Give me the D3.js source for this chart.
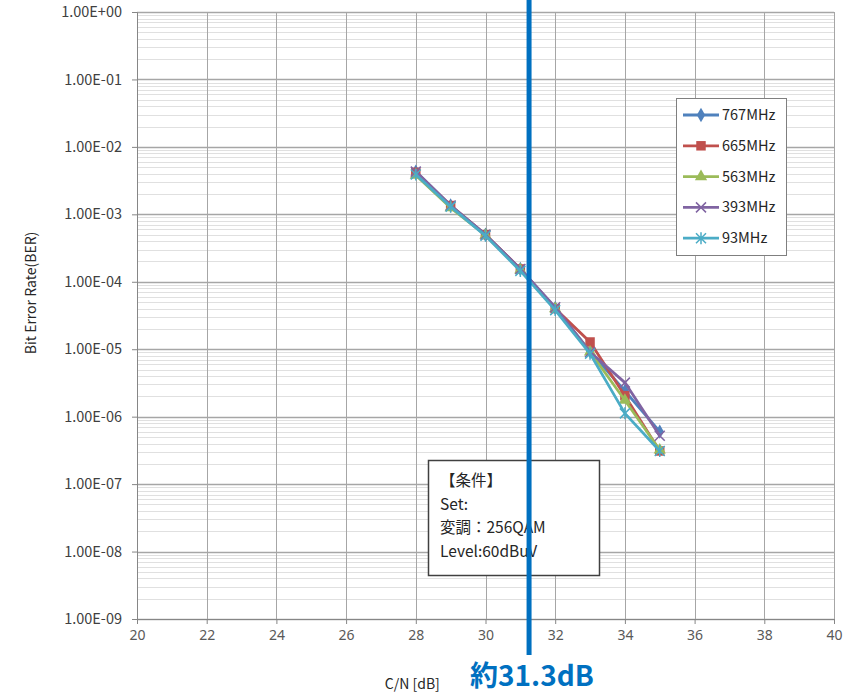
<!DOCTYPE html>
<html>
<head>
<meta charset="utf-8">
<script src="https://cdn.jsdelivr.net/npm/d3@7"></script>
<style>
  body { margin: 0; background: #fff; }
  svg { display: block; }
  text { font-family: "Noto Sans CJK JP", "Noto Sans", sans-serif; }
</style>
</head>
<body>
<div id="chart-area"></div>
<script>
// C/N values (dB)
var cn = [28, 29, 30, 31, 32, 33, 34, 35];

// BER per frequency
var ber767 = [4.3e-3, 1.35e-3, 5.0e-4, 1.55e-4, 4.1e-5, 9.3e-6, 2.4e-6, 6.0e-7];
var ber665 = [4.2e-3, 1.35e-3, 5.0e-4, 1.55e-4, 4.0e-5, 1.28e-5, 2.05e-6, 3.1e-7];
var ber563 = [3.8e-3, 1.25e-3, 4.9e-4, 1.5e-4, 4.0e-5, 9.1e-6, 1.75e-6, 3.2e-7];
var ber393 = [4.3e-3, 1.35e-3, 5.0e-4, 1.55e-4, 4.2e-5, 9.1e-6, 3.2e-6, 5.2e-7];
var ber93  = [3.9e-3, 1.3e-3, 4.8e-4, 1.45e-4, 3.8e-5, 8.6e-6, 1.12e-6, 3.1e-7];

var seriesNames = ["767MHz", "665MHz", "563MHz", "393MHz", "93MHz"];
var seriesColors = ["#4F81BD", "#C0504D", "#9BBB59", "#8064A2", "#4BACC6"];
var seriesMarkers = ["diamond", "square", "triangle", "x", "star"];
var seriesValues = [ber767, ber665, ber563, ber393, ber93];

var xTicks = [20, 22, 24, 26, 28, 30, 32, 34, 36, 38, 40];
var yTicks = [1, 1e-1, 1e-2, 1e-3, 1e-4, 1e-5, 1e-6, 1e-7, 1e-8, 1e-9];
var yTickLabels = ["1.00E+00", "1.00E-01", "1.00E-02", "1.00E-03", "1.00E-04",
                   "1.00E-05", "1.00E-06", "1.00E-07", "1.00E-08", "1.00E-09"];

var markLine = 31.25;
var markLabel = "約31.3dB";
var noteLines = ["【条件】", "Set:", "変調：256QAM", "Level:60dBuV"];

var margin = { left: 137, right: 18, top: 12, bottom: 74 };
var width = 852 - margin.left - margin.right,
    height = 693 - margin.top - margin.bottom;

var svg = d3.select("#chart-area")
  .append("svg")
    .attr("width", 852)
    .attr("height", 693);

var g = svg.append("g")
  .attr("transform", "translate(" + margin.left + "," + margin.top + ")");

var x = d3.scaleLinear().domain([20, 40]).range([0, width]);
var y = d3.scaleLog().domain([1e-9, 1]).range([height, 0]);

// minor horizontal grid
var minor = [];
for (var e = -9; e < 0; e++) {
  for (var m = 2; m <= 9; m++) minor.push(m * Math.pow(10, e));
}
g.append("g").selectAll("line.minor")
  .data(minor)
  .enter().append("line")
    .attr("x1", 0).attr("x2", width)
    .attr("y1", function(d) { return Math.round(y(d)) + 0.5; })
    .attr("y2", function(d) { return Math.round(y(d)) + 0.5; })
    .attr("stroke", "#e0e0e0")
    .attr("stroke-width", 1);

// major horizontal grid
g.append("g").selectAll("line.major")
  .data(yTicks)
  .enter().append("line")
    .attr("x1", 0).attr("x2", width)
    .attr("y1", function(d) { return Math.round(y(d)) + 0.5; })
    .attr("y2", function(d) { return Math.round(y(d)) + 0.5; })
    .attr("stroke", "#a6a6a6")
    .attr("stroke-width", 1.5);

// vertical grid
g.append("g").selectAll("line.vgrid")
  .data(xTicks)
  .enter().append("line")
    .attr("x1", function(d) { return Math.round(x(d)) + 0.5; })
    .attr("x2", function(d) { return Math.round(x(d)) + 0.5; })
    .attr("y1", 0).attr("y2", height)
    .attr("stroke", "#a6a6a6")
    .attr("stroke-width", 1);

// axes
var xAxisCall = d3.axisBottom(x).tickValues(xTicks).tickSize(5).tickPadding(6);
var xAxisGroup = g.append("g")
  .attr("transform", "translate(0," + height + ")")
  .call(xAxisCall);
xAxisGroup.select(".domain").attr("stroke", "#868686");
xAxisGroup.selectAll(".tick line").attr("stroke", "#868686");
xAxisGroup.selectAll("text")
  .attr("font-size", "14px")
  .attr("fill", "#595959")
  .style("font-family", "'Liberation Sans Narrow', 'Noto Sans', sans-serif");

var yAxisCall = d3.axisLeft(y).tickValues(yTicks)
  .tickFormat(function(d, i) { return yTickLabels[i]; })
  .tickSize(5).tickPadding(10);
var yAxisGroup = g.append("g").call(yAxisCall);
yAxisGroup.select(".domain").attr("stroke", "#868686");
yAxisGroup.selectAll(".tick line").attr("stroke", "#868686");
yAxisGroup.selectAll("text")
  .attr("font-size", "14.5px")
  .attr("fill", "#404040");

// axis labels
g.append("text")
  .attr("x", x(27.9))
  .attr("y", height + 70)
  .attr("font-size", "14px")
  .attr("fill", "#262626")
  .attr("text-anchor", "middle")
  .text("C/N [dB]");

g.append("text")
  .attr("transform", "rotate(-90)")
  .attr("x", -(293 - margin.top))
  .attr("y", -101)
  .attr("font-size", "14px")
  .attr("fill", "#262626")
  .attr("text-anchor", "middle")
  .text("Bit Error Rate(BER)");

// markers
function markerPath(type) {
  if (type === "diamond") return d3.symbol().type(d3.symbolDiamond).size(60)();
  if (type === "square") return d3.symbol().type(d3.symbolSquare).size(90)();
  if (type === "triangle") return d3.symbol().type(d3.symbolTriangle).size(65)();
  if (type === "x") return "M-5,-5L5,5M-5,5L5,-5";
  return "M-5,-5L5,5M-5,5L5,-5M0,-6L0,6";
}

var line = d3.line()
  .x(function(d) { return x(d[0]); })
  .y(function(d) { return y(d[1]); });

seriesValues.forEach(function(vals, i) {
  var pts = cn.map(function(c, k) { return [c, vals[k]]; });
  var sg = g.append("g");
  sg.append("path")
    .datum(pts)
    .attr("d", line)
    .attr("fill", "none")
    .attr("stroke", seriesColors[i])
    .attr("stroke-width", 2.8)
    .attr("stroke-linejoin", "round");
  var open = seriesMarkers[i] === "x" || seriesMarkers[i] === "star";
  sg.selectAll("path.m")
    .data(pts)
    .enter().append("path")
      .attr("transform", function(d) { return "translate(" + x(d[0]) + "," + y(d[1]) + ")"; })
      .attr("d", markerPath(seriesMarkers[i]))
      .attr("fill", open ? "none" : seriesColors[i])
      .attr("stroke", seriesColors[i])
      .attr("stroke-width", open ? 1.5 : 0);
});

// legend
var legend = svg.append("g").attr("transform", "translate(676,98)");
legend.append("rect")
  .attr("x", 0.5).attr("y", 0.5)
  .attr("width", 110).attr("height", 157)
  .attr("fill", "#fff")
  .attr("stroke", "#7f7f7f");
seriesNames.forEach(function(name, i) {
  var ly = 17 + i * 30.8;
  var lg = legend.append("g");
  lg.append("line")
    .attr("x1", 7).attr("x2", 43)
    .attr("y1", ly).attr("y2", ly)
    .attr("stroke", seriesColors[i])
    .attr("stroke-width", 2.8);
  var open = seriesMarkers[i] === "x" || seriesMarkers[i] === "star";
  lg.append("path")
    .attr("transform", "translate(25," + ly + ")")
    .attr("d", markerPath(seriesMarkers[i]))
    .attr("fill", open ? "none" : seriesColors[i])
    .attr("stroke", seriesColors[i])
    .attr("stroke-width", open ? 1.5 : 0);
  lg.append("text")
    .attr("x", 46).attr("y", ly + 5)
    .attr("font-size", "14.5px")
    .attr("fill", "#262626")
    .text(name);
});

// condition note
var note = svg.append("g").attr("transform", "translate(428,460)");
note.append("rect")
  .attr("x", 0.5).attr("y", 0.5)
  .attr("width", 171).attr("height", 115)
  .attr("fill", "#fff")
  .attr("stroke", "#404040")
  .attr("stroke-width", 1.5);
noteLines.forEach(function(t, i) {
  note.append("text")
    .attr("x", 12).attr("y", 26 + i * 23.5)
    .attr("font-size", "15.5px")
    .attr("fill", "#262626")
    .text(t);
});

// threshold line
svg.append("line")
  .attr("x1", margin.left + x(markLine)).attr("x2", margin.left + x(markLine))
  .attr("y1", 0).attr("y2", 655)
  .attr("stroke", "#0070C0")
  .attr("stroke-width", 5);

svg.append("text")
  .attr("x", 470).attr("y", 686)
  .attr("font-size", "28px")
  .attr("font-weight", "bold")
  .attr("fill", "#0070C0")
  .style("font-family", "'Liberation Sans Narrow', 'Noto Sans CJK JP', sans-serif")
  .text(markLabel);
</script>
</body>
</html>
